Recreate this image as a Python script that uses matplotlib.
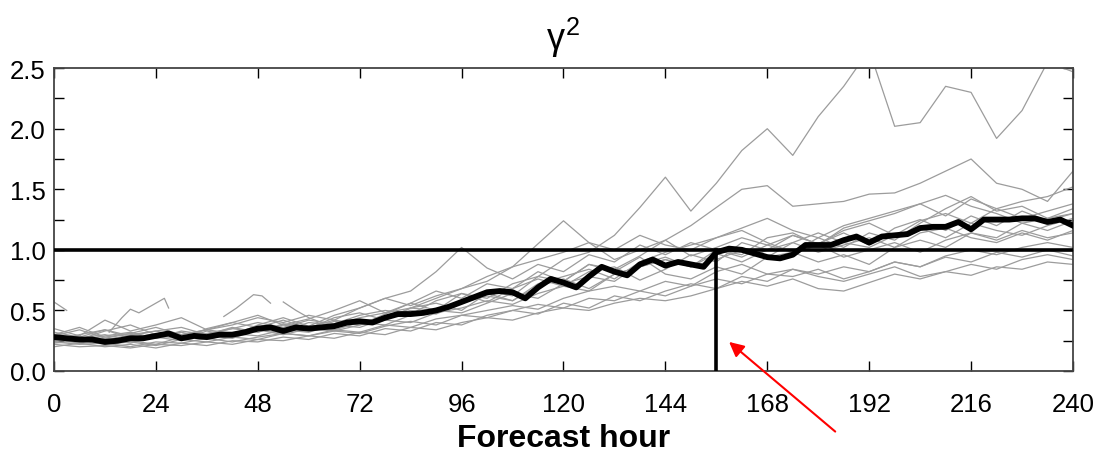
"""
gamma^2 ensemble spread plot vs forecast hour
"""

import numpy as np
import matplotlib.pyplot as plt

# ---------------------------------------------------------------------------
# Data
# ---------------------------------------------------------------------------

# member curves, every 6 h
member_hours = list(range(0, 241, 6))

m01 = [0.24, 0.22, 0.23, 0.20, 0.24, 0.23, 0.27, 0.24, 0.28, 0.31, 0.29, 0.33, 0.31, 0.37, 0.41, 0.38, 0.46,
       0.44, 0.50, 0.55, 0.52, 0.60, 0.58, 0.66, 0.62, 0.70, 0.76, 0.72, 0.80, 0.78, 0.84, 0.76, 0.82, 0.90,
       0.86, 0.95, 1.00, 0.96, 1.02, 1.06, 1.02]
m02 = [0.30, 0.36, 0.28, 0.31, 0.27, 0.33, 0.30, 0.36, 0.32, 0.38, 0.34, 0.41, 0.38, 0.47, 0.56, 0.50, 0.64,
       0.57, 0.68, 0.76, 0.70, 0.82, 0.86, 0.75, 0.84, 0.96, 0.90, 1.06, 1.00, 1.12, 1.05, 1.14, 1.04, 1.18,
       1.25, 1.16, 1.28, 1.20, 1.32, 1.24, 1.30]
m03 = [0.28, 0.25, 0.29, 0.32, 0.27, 0.30, 0.34, 0.31, 0.37, 0.33, 0.40, 0.38, 0.44, 0.48, 0.52, 0.50, 0.58,
       0.66, 0.62, 0.78, 0.92, 0.98, 1.12, 1.35, 1.60, 1.32, 1.55, 1.82, 2.00, 1.78, 2.10, 2.35, 2.65, 2.02,
       2.05, 2.35, 2.30, 1.92, 2.15, 2.55, 2.47]
m04 = [0.32, 0.28, 0.34, 0.29, 0.33, 0.36, 0.30, 0.35, 0.40, 0.36, 0.42, 0.39, 0.46, 0.50, 0.47, 0.58, 0.64,
       0.60, 0.72, 0.78, 0.74, 0.88, 0.84, 0.95, 1.08, 1.20, 1.35, 1.50, 1.53, 1.36, 1.38, 1.40, 1.46, 1.47,
       1.55, 1.65, 1.75, 1.55, 1.50, 1.40, 1.65]
m05 = [0.26, 0.23, 0.27, 0.25, 0.22, 0.28, 0.26, 0.31, 0.29, 0.34, 0.32, 0.38, 0.36, 0.43, 0.52, 0.60, 0.68,
       0.74, 0.86, 1.05, 1.24, 1.06, 0.92, 1.00, 1.08, 0.95, 1.02, 1.10, 1.04, 1.12, 1.05, 1.16, 1.22, 1.12,
       1.24, 1.30, 1.22, 1.34, 1.26, 1.32, 1.38]
m06 = [0.25, 0.30, 0.34, 0.27, 0.31, 0.26, 0.33, 0.29, 0.38, 0.44, 0.37, 0.46, 0.52, 0.60, 0.66, 0.82, 1.02,
       0.85, 0.76, 0.88, 0.82, 0.96, 0.90, 1.04, 0.96, 1.06, 1.00, 0.94, 1.04, 0.98, 1.10, 1.02, 1.14, 1.08,
       1.22, 1.34, 1.44, 1.32, 1.36, 1.26, 1.34]
m07 = [0.22, 0.20, 0.21, 0.19, 0.22, 0.21, 0.24, 0.22, 0.26, 0.25, 0.29, 0.27, 0.32, 0.30, 0.36, 0.34, 0.40,
       0.44, 0.42, 0.48, 0.52, 0.50, 0.56, 0.60, 0.58, 0.62, 0.68, 0.74, 0.70, 0.76, 0.68, 0.66, 0.73, 0.80,
       0.76, 0.82, 0.79, 0.86, 0.84, 0.90, 0.88]
m08 = [0.35, 0.29, 0.42, 0.33, 0.38, 0.44, 0.34, 0.40, 0.46, 0.38, 0.43, 0.50, 0.58, 0.48, 0.56, 0.66, 0.60,
       0.72, 0.68, 0.82, 0.74, 0.88, 0.82, 0.94, 0.80, 0.76, 0.86, 0.80, 0.94, 0.98, 0.90, 0.96, 0.88, 1.02,
       1.08, 1.02, 1.14, 1.10, 1.22, 1.16, 1.24]
m09 = [0.27, 0.24, 0.26, 0.23, 0.28, 0.25, 0.29, 0.27, 0.34, 0.30, 0.35, 0.33, 0.38, 0.42, 0.40, 0.48, 0.52,
       0.58, 0.55, 0.64, 0.70, 0.66, 0.80, 0.86, 0.92, 0.86, 1.00, 0.96, 1.10, 1.14, 1.04, 1.18, 1.24, 1.30,
       1.38, 1.45, 1.36, 1.30, 1.22, 1.26, 1.30]
m10 = [0.20, 0.23, 0.20, 0.22, 0.19, 0.23, 0.21, 0.25, 0.24, 0.28, 0.26, 0.31, 0.29, 0.35, 0.33, 0.40, 0.38,
       0.46, 0.50, 0.47, 0.56, 0.52, 0.62, 0.58, 0.66, 0.72, 0.68, 0.78, 0.74, 0.84, 0.80, 0.86, 0.82, 0.90,
       0.86, 0.94, 0.90, 0.98, 0.94, 1.00, 0.95]
m11 = [0.30, 0.26, 0.33, 0.38, 0.30, 0.26, 0.35, 0.40, 0.36, 0.42, 0.35, 0.44, 0.48, 0.42, 0.52, 0.56, 0.50,
       0.64, 0.58, 0.70, 0.76, 0.68, 0.80, 0.86, 0.92, 0.86, 0.97, 0.90, 1.00, 1.06, 1.14, 1.06, 1.02, 1.12,
       1.18, 1.10, 1.22, 1.16, 1.12, 1.20, 1.26]
m12 = [0.26, 0.28, 0.25, 0.30, 0.33, 0.28, 0.31, 0.35, 0.32, 0.39, 0.36, 0.42, 0.39, 0.45, 0.50, 0.47, 0.56,
       0.62, 0.58, 0.72, 0.78, 0.84, 0.76, 0.90, 0.98, 1.04, 1.10, 1.16, 1.06, 0.98, 1.04, 0.94, 1.00, 1.06,
       0.98, 1.08, 1.14, 1.08, 1.16, 1.10, 1.14]
m13 = [0.23, 0.25, 0.22, 0.24, 0.21, 0.26, 0.24, 0.28, 0.26, 0.31, 0.29, 0.34, 0.32, 0.38, 0.36, 0.43, 0.46,
       0.50, 0.54, 0.51, 0.60, 0.66, 0.70, 0.66, 0.74, 0.70, 0.82, 0.88, 0.80, 0.84, 0.78, 0.74, 0.80, 0.86,
       0.78, 0.82, 0.88, 0.84, 0.92, 0.96, 0.92]
m14 = [0.29, 0.34, 0.27, 0.31, 0.36, 0.30, 0.34, 0.38, 0.44, 0.40, 0.46, 0.42, 0.52, 0.60, 0.54, 0.62, 0.68,
       0.78, 0.86, 0.92, 0.98, 1.06, 1.00, 1.12, 1.04, 1.00, 1.10, 1.18, 1.26, 1.16, 1.10, 1.20, 1.26, 1.32,
       1.38, 1.28, 1.42, 1.34, 1.40, 1.44, 1.52]
m15 = [0.24, 0.27, 0.30, 0.25, 0.28, 0.32, 0.27, 0.31, 0.35, 0.31, 0.37, 0.34, 0.40, 0.38, 0.46, 0.50, 0.48,
       0.56, 0.64, 0.60, 0.72, 0.78, 0.74, 0.88, 0.94, 0.86, 0.92, 1.00, 0.94, 1.06, 0.98, 1.04, 1.10, 1.02,
       1.14, 1.18, 1.10, 1.06, 1.14, 1.08, 1.16]

members = [m01, m02, m03, m04, m05, m06, m07, m08, m09, m10, m11, m12, m13, m14, m15]

# short broken member pieces (missing data elsewhere)
frag_a_hours = [0, 3]
frag_a_vals = [0.57, 0.50]
frag_b_hours = [13, 16, 18, 20, 23, 26, 27]
frag_b_vals = [0.32, 0.44, 0.51, 0.48, 0.54, 0.60, 0.52]
frag_c_hours = [40, 43, 47, 49, 51]
frag_c_vals = [0.45, 0.52, 0.63, 0.62, 0.56]
frag_d_hours = [54, 57, 60, 63]
frag_d_vals = [0.57, 0.50, 0.44, 0.40]
fragments = [(frag_a_hours, frag_a_vals), (frag_b_hours, frag_b_vals),
             (frag_c_hours, frag_c_vals), (frag_d_hours, frag_d_vals)]

# ensemble mean, every 3 h
mean_hours = list(range(0, 241, 3))
mean_vals = [0.28, 0.27, 0.26, 0.26, 0.24, 0.25, 0.27, 0.27, 0.29, 0.31, 0.27, 0.29, 0.28, 0.30, 0.30, 0.32,
             0.35, 0.36, 0.33, 0.36, 0.35, 0.36, 0.37, 0.40, 0.41, 0.40, 0.44, 0.47, 0.47, 0.48, 0.50, 0.53,
             0.57, 0.61, 0.65, 0.66, 0.65, 0.60, 0.69, 0.76, 0.73, 0.69, 0.78, 0.86, 0.82, 0.79, 0.88, 0.92,
             0.87, 0.90, 0.88, 0.86, 0.98, 1.01, 1.00, 0.97, 0.94, 0.93, 0.96, 1.04, 1.04, 1.04, 1.08, 1.11,
             1.06, 1.11, 1.12, 1.13, 1.18, 1.19, 1.19, 1.23, 1.17, 1.25, 1.25, 1.25, 1.26, 1.26, 1.23, 1.25,
             1.20]

threshold = 1.0
cross_hour = 156
arrow_tail = (184, -0.50)
arrow_head = (159, 0.24)

x_ticks = list(range(0, 241, 24))
y_ticks = [0.0, 0.5, 1.0, 1.5, 2.0, 2.5]

# ---------------------------------------------------------------------------
# Plot
# ---------------------------------------------------------------------------

plt.rcParams['font.family'] = ['Liberation Sans', 'DejaVu Sans']
plt.rcParams['mathtext.fontset'] = 'custom'
plt.rcParams['mathtext.rm'] = 'Liberation Sans'
plt.rcParams['mathtext.it'] = 'Liberation Sans'

fig = plt.figure(figsize=(10.95, 4.52), dpi=100)
ax = fig.add_axes([0.0493, 0.177, 0.9306, 0.670])

for m in members:
    ax.plot(member_hours, m, color='#9c9c9c', linewidth=0.9)
for fh, fv in fragments:
    ax.plot(fh, fv, color='#9c9c9c', linewidth=0.9)

ax.plot(mean_hours, mean_vals, color='black', linewidth=4.2, zorder=5)

ax.axhline(threshold, color='black', linewidth=2.6, zorder=6)
ax.plot([cross_hour, cross_hour], [0, threshold], color='black', linewidth=2.6, zorder=6)

ax.annotate('', xy=arrow_head, xytext=arrow_tail, annotation_clip=False,
            arrowprops=dict(arrowstyle='-|>', color='red', lw=1.5, mutation_scale=22,
                            shrinkA=0, shrinkB=0))

ax.set_xlim(0, 240)
ax.set_ylim(0, 2.5)
ax.set_xticks(x_ticks)
ax.set_yticks(y_ticks)
ax.set_yticks(np.arange(0, 2.51, 0.25), minor=True)
ax.set_yticklabels([f"{v:.1f}" for v in y_ticks])

ax.tick_params(axis='both', which='both', direction='in', length=7, width=1.0,
               top=True, right=True, labelsize=18.5)
ax.tick_params(axis='x', pad=15)
ax.tick_params(axis='y', pad=6)

for sp in ax.spines.values():
    sp.set_color('#444444')
    sp.set_linewidth(1.3)

ax.set_xlabel('Forecast hour', fontsize=23, fontweight='bold', labelpad=5)
ax.set_title(r'$\gamma^2$', fontsize=26, pad=14)

fig.savefig('out.png', dpi=100)
